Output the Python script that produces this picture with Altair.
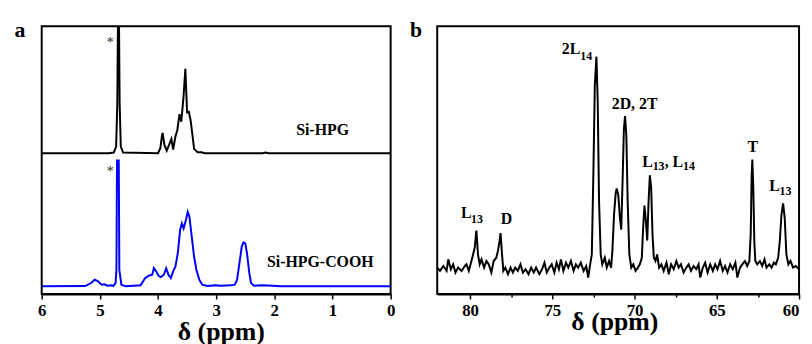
import altair as alt
import pandas as pd

FONT = "Liberation Serif"

# ---------------- Panel a : 1H NMR (ppm, relative intensity) ----------------
hpg_ppm = [6.0, 4.85, 4.76, 4.72, 4.70, 4.68, 4.66, 4.64, 4.60, 4.00, 3.96, 3.93, 3.92,
           3.89, 3.85, 3.81, 3.77, 3.74, 3.70, 3.67, 3.63, 3.60, 3.56, 3.53, 3.50, 3.47,
           3.44, 3.40, 3.38, 3.32, 3.25, 3.20, 2.20, 2.15, 2.10, 0.0]
hpg_int = [0, 0, 0.2, 2, 15, 60, 15, 2, 0.2, 0, 1.5, 5.5, 6.1,
           2.5, 0.8, 2.5, 4.3, 1.1, 5.1, 6.8, 11.8, 9.5, 17.3, 25.5, 12.3, 12.5,
           10, 4.3, 1.3, 0.3, 0.3, 0, 0, 0.2, 0, 0]

cooh_ppm = [6.0, 5.25, 5.15, 5.09, 5.03, 4.97, 4.92, 4.87, 4.80, 4.77, 4.73, 4.715, 4.705,
            4.675, 4.665, 4.63, 4.55, 4.30, 4.22, 4.15, 4.10, 4.07, 4.03, 3.99, 3.95, 3.90,
            3.86, 3.82, 3.78, 3.74, 3.70, 3.66, 3.62, 3.59, 3.56, 3.52, 3.49, 3.46, 3.42,
            3.38, 3.34, 3.29, 3.24, 3.15, 3.01, 2.92, 2.75, 2.68, 2.64, 2.60, 2.56, 2.53,
            2.50, 2.47, 2.43, 2.40, 2.35, 2.22, 2.02, 1.90, 0.0]
cooh_int = [0, 0.1, 1, 2, 1.5, 0.5, 0.6, 0.2, 0.3, 0.1, 1, 5, 38,
            38, 5, 0.5, 0, 0.3, 2.5, 3.3, 3.5, 5.5, 4.5, 3.2, 2.8, 3.5,
            5.5, 3.5, 2.5, 4.5, 6, 10, 17, 19, 17.5, 20, 22.5, 21, 15,
            9, 5, 2, 0.5, 0.1, 0.3, 0.2, 0.3, 0.5, 2, 7, 12, 13.3,
            13, 10, 4, 1, 0.2, 0.3, 0.2, 0, 0]

HPG_OFFSET = 42.5
COOH_OFFSET = 2.3

a_ticks = [0, 0.5, 1, 1.5, 2, 2.5, 3, 3.5, 4, 4.5, 5, 5.5, 6]
a_star_ppm = [4.82, 4.82]
a_star_y = [74.6, 35.6]
a_label_text = ["Si-HPG", "Si-HPG-COOH"]
a_label_ppm = [1.625, 2.126]
a_label_y = [48.0, 8.1]

# ---------------- Panel b : 13C NMR ----------------
c13_ppm = [82.00, 81.83, 81.63, 81.43, 81.33, 81.17, 81.03, 80.89, 80.73, 80.52,
           80.32, 80.22, 80.08, 79.92, 79.82, 79.72, 79.62, 79.52, 79.42, 79.31,
           79.15, 79.01, 78.87, 78.71, 78.57, 78.41, 78.31, 78.21, 78.15, 78.06,
           77.98, 77.86, 77.70, 77.54, 77.40, 77.26, 77.10, 76.94, 76.79, 76.63,
           76.45, 76.29, 76.13, 75.99, 75.79, 75.63, 75.48, 75.34, 75.18, 75.04,
           74.88, 74.74, 74.60, 74.48, 74.33, 74.17, 74.03, 73.87, 73.71, 73.57,
           73.43, 73.27, 73.10, 72.94, 72.82, 72.70, 72.60, 72.50, 72.42, 72.32,
           72.24, 72.16, 72.06, 71.96, 71.81, 71.69, 71.55, 71.43, 71.35, 71.25,
           71.15, 71.09, 70.99, 70.89, 70.81, 70.71, 70.65, 70.58, 70.50, 70.42,
           70.32, 70.20, 70.08, 69.94, 69.80, 69.68, 69.56, 69.48, 69.40, 69.31,
           69.23, 69.15, 69.07, 68.99, 68.91, 68.83, 68.73, 68.63, 68.51, 68.37,
           68.23, 68.06, 67.92, 67.78, 67.62, 67.46, 67.32, 67.18, 67.02, 66.85,
           66.71, 66.57, 66.41, 66.25, 66.11, 66.01, 65.85, 65.71, 65.56, 65.40,
           65.24, 65.10, 64.96, 64.80, 64.64, 64.50, 64.35, 64.19, 64.03, 63.87,
           63.75, 63.59, 63.45, 63.29, 63.15, 63.02, 62.94, 62.88, 62.84, 62.78,
           62.72, 62.66, 62.54, 62.38, 62.24, 62.10, 61.98, 61.81, 61.67, 61.53,
           61.41, 61.27, 61.17, 61.07, 60.97, 60.87, 60.77, 60.65, 60.52, 60.36,
           60.20, 60.00]
c13_int = [0, -1, 0.5, -1, 2.5, -0.5, 1, -1.5, 0, -1,
           0.5, 1, -1, 2, 4, 6, 11.2, 4, 1, 2.5,
           0, 2, 1, -1.5, 2, 3, 5, 8, 10.5, 4,
           -1, 0, -2, 0, -1.5, 0, -1, 1, -1.5, -0.5,
           -2, 0, -1.5, 0, -2, -0.5, 1.5, -1.5, 0, 1,
           -1.5, 1.5, -0.5, 2.5, -1, 1.5, 0, 2, -1, 1,
           0, 1.5, -1, 0.5, -3, 1, 4, 30, 55, 64,
           50, 20, 4, 1, 3, 0, 2, 0, 5, 16,
           22.5, 24, 22, 15, 11.5, 30, 42, 46, 40, 20,
           4, 0, 1, -1, 0, 1, 3, 12, 18.8, 14,
           8.2, 20, 28, 24, 10, 3, 2, 4, 0, 1,
           -1, 1.5, -2, 1, -0.5, 2, 0, 1, -1.5, 0,
           1, -1, 0.5, -0.5, 1, -3, 0, 1.5, -1.5, 1,
           -1, 1, -0.5, 2, -1, 0.5, -1.5, 1, -0.5, 1.5,
           -3, 0, 1, 2, 0.5, 2, 10, 28, 32.8, 24,
           8, 2, 1, 2, 0.5, 2.5, 0, 1, 0, 1.5,
           1, 3, 8, 16, 19.5, 15, 4, 1, 2, 0,
           0.5, -0.5]

b_ticks = [60, 62.5, 65, 67.5, 70, 72.5, 75, 77.5, 80]
b_main_text = ["L", "D", "2L", "2D, 2T", "L", ", L", "T", "L"]
b_main_ppm = [80.56, 78.14, 74.43, 71.39, 69.53, 68.17, 63.14, 61.81]
b_main_y = [15.0, 13.2, 64.8, 48.2, 30.5, 30.5, 35.2, 23.2]
b_sub_text = ["13", "14", "13", "14", "13"]
b_sub_ppm = [79.94, 73.30, 68.90, 67.05, 61.19]
b_sub_y = [13.5, 63.0, 29.5, 29.5, 22.0]


def x_axis(values, major, title_x, title_y, flush):
    return alt.Axis(
        values=values,
        labelExpr=f"datum.value % {major} === 0 ? format(datum.value, 'd') : ''",
        tickSize={"condition": {"test": f"datum.value % {major} === 0", "value": 5}, "value": 3},
        tickColor="black", tickWidth=1.5,
        domainColor="black", domainWidth=2,
        labelFont=FONT, labelFontSize=17, labelFontWeight="bold", labelColor="black",
        labelPadding=4, labelFlush=flush, labelOverlap=False, grid=False,
        title="δ (ppm)", titleFont=FONT, titleFontSize=26, titleFontWeight="bold",
        titleColor="black", titleBaseline="alphabetic", titleAlign="center",
        titleX=title_x, titleY=title_y,
    )


def y_axis(letter):
    return alt.Axis(
        title=letter, labels=False, ticks=False, domain=False, grid=False,
        titleAngle=0, titleAlign="left", titleBaseline="alphabetic",
        titleX=-28, titleY=10.5, titleFont=FONT, titleFontSize=22,
        titleFontWeight="bold", titleColor="black",
    )


# ---- panel a ----
hpg_df = pd.DataFrame({"ppm": hpg_ppm, "y": [v + HPG_OFFSET for v in hpg_int]})
cooh_df = pd.DataFrame({"ppm": cooh_ppm, "y": [v + COOH_OFFSET for v in cooh_int]})
star_df = pd.DataFrame({"ppm": a_star_ppm, "y": a_star_y, "t": ["*", "*"]})
alab_df = pd.DataFrame({"ppm": a_label_ppm, "y": a_label_y, "t": a_label_text})

ax_a = alt.X("ppm:Q", scale=alt.Scale(domain=[0, 6], reverse=True, nice=False, zero=False),
             axis=x_axis(a_ticks, 1, 180.7, 45.5, False))
ay_a = alt.Y("y:Q", scale=alt.Scale(domain=[0, 80.8], nice=False, zero=False), axis=y_axis("a"))

a_black = alt.Chart(hpg_df).mark_line(color="black", strokeWidth=2, clip=True).encode(x=ax_a, y=ay_a)
a_blue = alt.Chart(cooh_df).mark_line(color="#0000ff", strokeWidth=2, clip=True).encode(x="ppm:Q", y="y:Q")
a_star = alt.Chart(star_df).mark_text(font=FONT, fontSize=14, color="#222222", align="center",
                                       baseline="alphabetic").encode(x="ppm:Q", y="y:Q", text="t:N")
a_lab = alt.Chart(alab_df).mark_text(font=FONT, fontSize=16, fontWeight="bold", color="black",
                                      align="left", baseline="alphabetic").encode(x="ppm:Q", y="y:Q", text="t:N")

panel_a = alt.layer(a_black, a_blue, a_star, a_lab).properties(width=352, height=270)

# ---- panel b ----
c13_df = pd.DataFrame({"ppm": c13_ppm, "y": c13_int})
bmain_df = pd.DataFrame({"ppm": b_main_ppm, "y": b_main_y, "t": b_main_text})
bsub_df = pd.DataFrame({"ppm": b_sub_ppm, "y": b_sub_y, "t": b_sub_text})

ax_b = alt.X("ppm:Q", scale=alt.Scale(domain=[60, 82], reverse=True, nice=False, zero=False),
             axis=x_axis(b_ticks, 5, 178.7, 35.5, True))
ay_b = alt.Y("y:Q", scale=alt.Scale(domain=[-8, 73.2], nice=False, zero=False), axis=y_axis("b"))

b_line = alt.Chart(c13_df).mark_line(color="black", strokeWidth=2).encode(x=ax_b, y=ay_b)
b_main = alt.Chart(bmain_df).mark_text(font=FONT, fontSize=16, fontWeight="bold", color="black",
                                       align="left", baseline="alphabetic").encode(x="ppm:Q", y="y:Q", text="t:N")
b_sub = alt.Chart(bsub_df).mark_text(font=FONT, fontSize=12, fontWeight="bold", color="black",
                                     align="left", baseline="alphabetic").encode(x="ppm:Q", y="y:Q", text="t:N")

panel_b = alt.layer(b_line, b_main, b_sub).properties(width=365, height=270)

chart = (
    alt.hconcat(panel_a, panel_b, spacing=12)
    .properties(padding={"left": 5, "top": 8, "right": 0, "bottom": 0}, background="white")
    .configure_view(stroke="black", strokeWidth=2)
)

chart.save("out.html", embed_options={"renderer": "svg", "actions": False})
